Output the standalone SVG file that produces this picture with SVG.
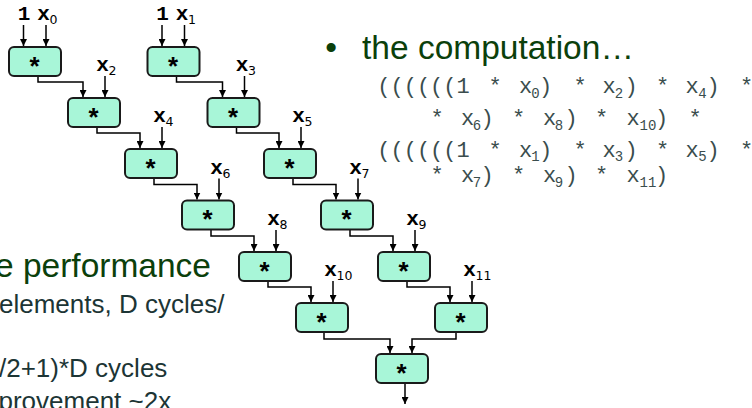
<svg xmlns="http://www.w3.org/2000/svg" width="752" height="408" viewBox="0 0 752 408">
<defs>
<style>
.box{fill:#a8f6d8;stroke:#1a1a1a;stroke-width:2}
.star{font-family:"Liberation Mono",monospace;font-weight:bold;font-size:26px;text-anchor:middle;fill:#000}
.lbl{font-family:"Liberation Mono",monospace;font-weight:bold;font-size:21px;fill:#000;text-anchor:middle}
.sub{font-family:"DejaVu Sans",sans-serif;font-size:12.5px;fill:#000}
.wire{fill:none;stroke:#000;stroke-width:1.5;marker-end:url(#ah)}
.title{font-family:"Liberation Sans",Arial,sans-serif;font-size:33.5px;fill:#0b400b}
.body{font-family:"Liberation Sans",Arial,sans-serif;font-size:26px;fill:#1c3535}
.code{font-family:"Liberation Mono",monospace;font-size:22px;fill:#3a4d4d;text-anchor:middle}
.sb{font-size:14px}
</style>
<marker id="ah" markerWidth="7" markerHeight="7" refX="7" refY="3.5" orient="auto" markerUnits="userSpaceOnUse"><path d="M0,0 L7,3.5 L0,7 z" fill="#000"/></marker>
</defs>

<g id="connectors">
<path class="wire" d="M23.5 25 V46"/>
<path class="wire" d="M46 25 V46"/>
<path class="wire" d="M162 25 V46"/>
<path class="wire" d="M184.5 25 V46"/>
<path class="wire" d="M38 76 V82 H83 V97"/>
<path class="wire" d="M97 127 V133 H140 V148"/>
<path class="wire" d="M154 178 V184.5 H197 V199.5"/>
<path class="wire" d="M211 229.5 V236 H254 V251"/>
<path class="wire" d="M268 281 V287 H311 V302"/>
<path class="wire" d="M324 332 V339 H390 V353"/>
<path class="wire" d="M176.5 76 V82 H222.5 V97"/>
<path class="wire" d="M236.5 127 V133 H279 V148"/>
<path class="wire" d="M293 178 V184.5 H336 V199.5"/>
<path class="wire" d="M350 229.5 V236 H393 V251"/>
<path class="wire" d="M407 281 V287 H450 V302"/>
<path class="wire" d="M456 332 V339 H412 V353"/>
<path class="wire" d="M105 76 V97"/>
<path class="wire" d="M162 127 V148"/>
<path class="wire" d="M219 178.5 V199.5"/>
<path class="wire" d="M276 230 V251"/>
<path class="wire" d="M333 281 V302"/>
<path class="wire" d="M244.5 76 V97"/>
<path class="wire" d="M301 127 V148"/>
<path class="wire" d="M358 178.5 V199.5"/>
<path class="wire" d="M415 230 V251"/>
<path class="wire" d="M472 281 V302"/>
<path class="wire" d="M405 383 V404"/>
</g>

<g id="labels">
<text class="lbl" x="24" y="19.5">1</text>
<text class="lbl" x="43.5" y="19.5">x</text><text class="sub" x="49.5" y="23.5">0</text>
<text class="lbl" x="162.5" y="19.5">1</text>
<text class="lbl" x="182" y="19.5">x</text><text class="sub" x="188" y="23.5">1</text>
<text class="lbl" x="102.5" y="71">x</text><text class="sub" x="108.5" y="75">2</text>
<text class="lbl" x="159.5" y="122">x</text><text class="sub" x="165.5" y="126">4</text>
<text class="lbl" x="216.5" y="173.5">x</text><text class="sub" x="222.5" y="177.5">6</text>
<text class="lbl" x="273.5" y="225">x</text><text class="sub" x="279.5" y="229">8</text>
<text class="lbl" x="330.5" y="276">x</text><text class="sub" x="336.5" y="280">10</text>
<text class="lbl" x="242" y="71">x</text><text class="sub" x="248" y="75">3</text>
<text class="lbl" x="298.5" y="122">x</text><text class="sub" x="304.5" y="126">5</text>
<text class="lbl" x="355.5" y="173.5">x</text><text class="sub" x="361.5" y="177.5">7</text>
<text class="lbl" x="412.5" y="225">x</text><text class="sub" x="418.5" y="229">9</text>
<text class="lbl" x="469.5" y="276">x</text><text class="sub" x="475.5" y="280">11</text>
</g>

<g id="mulL0"><rect class="box" x="9" y="47" width="52" height="29" rx="5"/><text class="star" x="34.5" y="75.5">*</text></g>
<g id="mulL1"><rect class="box" x="68" y="98" width="52" height="29" rx="5"/><text class="star" x="93.5" y="126.5">*</text></g>
<g id="mulL2"><rect class="box" x="125" y="149" width="52" height="29" rx="5"/><text class="star" x="150.5" y="177.5">*</text></g>
<g id="mulL3"><rect class="box" x="182" y="200.5" width="52" height="29" rx="5"/><text class="star" x="207.5" y="229">*</text></g>
<g id="mulL4"><rect class="box" x="239" y="252" width="52" height="29" rx="5"/><text class="star" x="264.5" y="280.5">*</text></g>
<g id="mulL5"><rect class="box" x="296" y="303" width="52" height="29" rx="5"/><text class="star" x="321.5" y="331.5">*</text></g>
<g id="mulR0"><rect class="box" x="147.5" y="47" width="52" height="29" rx="5"/><text class="star" x="173" y="75.5">*</text></g>
<g id="mulR1"><rect class="box" x="207.5" y="98" width="52" height="29" rx="5"/><text class="star" x="233" y="126.5">*</text></g>
<g id="mulR2"><rect class="box" x="264" y="149" width="52" height="29" rx="5"/><text class="star" x="289.5" y="177.5">*</text></g>
<g id="mulR3"><rect class="box" x="321" y="200.5" width="52" height="29" rx="5"/><text class="star" x="346.5" y="229">*</text></g>
<g id="mulR4"><rect class="box" x="378" y="252" width="52" height="29" rx="5"/><text class="star" x="403.5" y="280.5">*</text></g>
<g id="mulR5"><rect class="box" x="435" y="303" width="52" height="29" rx="5"/><text class="star" x="460.5" y="331.5">*</text></g>
<g id="mulFinal"><rect class="box" x="376" y="354" width="52" height="29" rx="5"/><text class="star" x="401.5" y="382.5">*</text></g>

<g id="text">
<text class="title" x="331" y="58.5" text-anchor="middle">•</text>
<text class="title" x="362" y="58.5">the computation…</text>
<text class="code" y="93"><tspan x="423.5">((((((1</tspan><tspan x="495">*</tspan><tspan x="525.5">x</tspan><tspan class="sb" x="535.5" y="97.5">0</tspan><tspan x="545.5" y="93">)</tspan><tspan x="580">*</tspan><tspan x="609">x</tspan><tspan class="sb" x="619" y="97.5">2</tspan><tspan x="631" y="93">)</tspan><tspan x="662.5">*</tspan><tspan x="692">x</tspan><tspan class="sb" x="702.5" y="97.5">4</tspan><tspan x="713" y="93">)</tspan><tspan x="746.5">*</tspan></text>
<text class="code" y="125"><tspan x="437">*</tspan><tspan x="467.5">x</tspan><tspan class="sb" x="477" y="129.5">6</tspan><tspan x="487" y="125">)</tspan><tspan x="518.5">*</tspan><tspan x="549.5">x</tspan><tspan class="sb" x="559" y="129.5">8</tspan><tspan x="571" y="125">)</tspan><tspan x="601.5">*</tspan><tspan x="633">x</tspan><tspan class="sb" x="648" y="129.5">10</tspan><tspan x="661.5" y="125">)</tspan><tspan x="695">*</tspan></text>
<text class="code" y="156.5"><tspan x="423.5">((((((1</tspan><tspan x="495">*</tspan><tspan x="525.5">x</tspan><tspan class="sb" x="535.5" y="161">1</tspan><tspan x="545.5" y="156.5">)</tspan><tspan x="580">*</tspan><tspan x="609">x</tspan><tspan class="sb" x="619" y="161">3</tspan><tspan x="631" y="156.5">)</tspan><tspan x="662.5">*</tspan><tspan x="692">x</tspan><tspan class="sb" x="702.5" y="161">5</tspan><tspan x="713" y="156.5">)</tspan><tspan x="746.5">*</tspan></text>
<text class="code" y="182"><tspan x="437">*</tspan><tspan x="467.5">x</tspan><tspan class="sb" x="477" y="186.5">7</tspan><tspan x="487" y="182">)</tspan><tspan x="518.5">*</tspan><tspan x="549.5">x</tspan><tspan class="sb" x="559" y="186.5">9</tspan><tspan x="571" y="182">)</tspan><tspan x="601.5">*</tspan><tspan x="633">x</tspan><tspan class="sb" x="648" y="186.5">11</tspan><tspan x="661.5" y="182">)</tspan></text>
<text class="title" x="-5" y="277">e performance</text>
<text class="body" x="-1" y="313">elements, D cycles/</text>
<text class="body" x="-1" y="377">/2+1)*D cycles</text>
<text class="body" x="-1.5" y="410">provement ~2x</text>
</g>
</svg>
